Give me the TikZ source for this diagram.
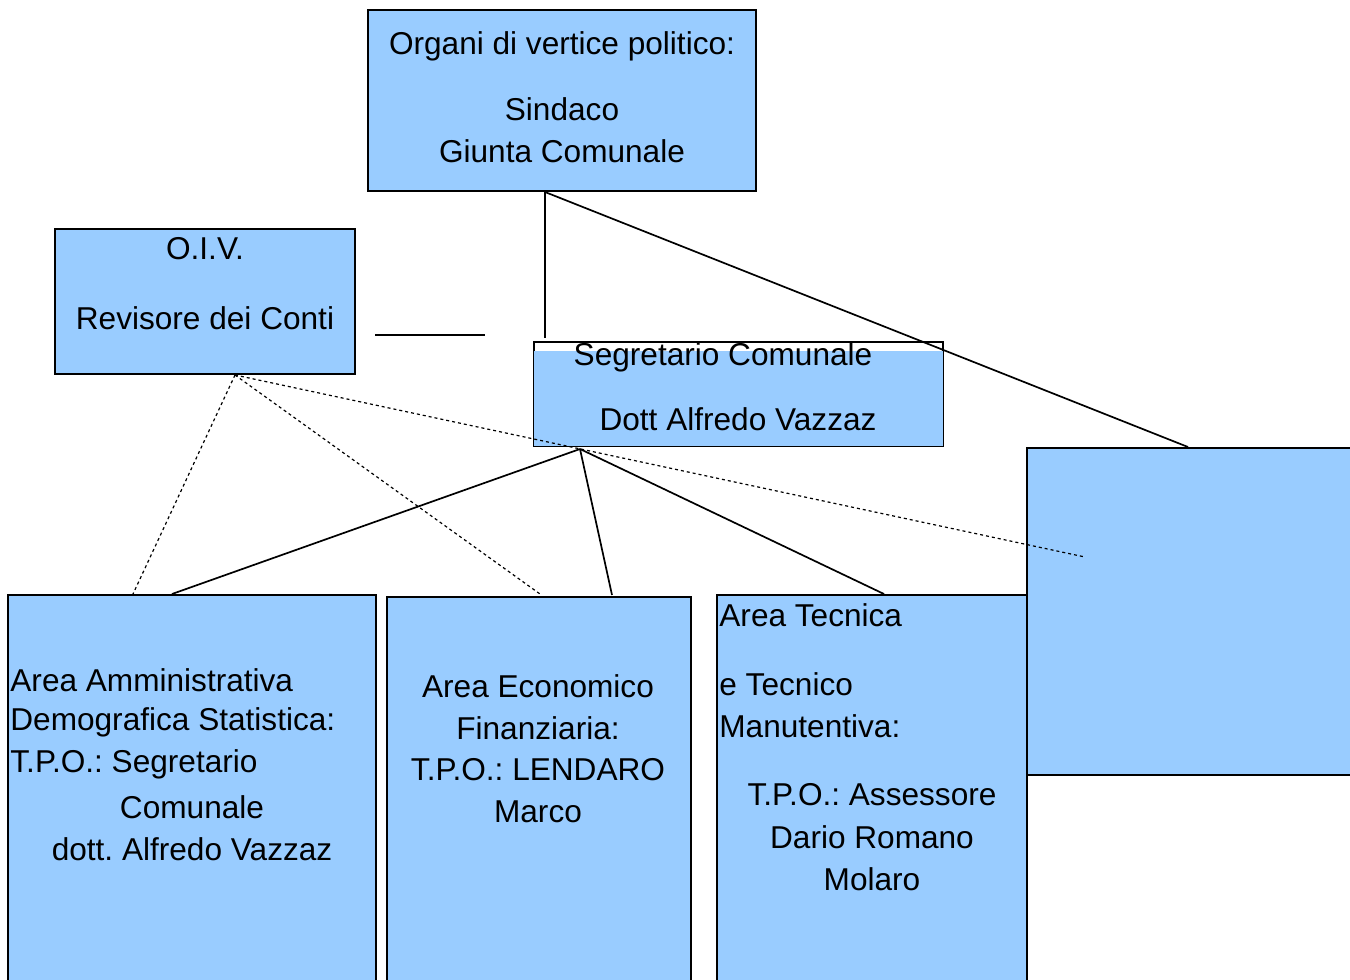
\documentclass[tikz,border=0pt]{standalone}
\usepackage{fontspec}
\setmainfont{Liberation Sans}
\usetikzlibrary{fit,calc}
\definecolor{boxblue}{HTML}{99CCFF}
\frenchspacing
\begin{document}
\begin{tikzpicture}[x=0.5pt,y=-0.5pt,
  box/.style={draw=black,line width=0.9pt,fill=boxblue,inner sep=0pt},
  txt/.style={font=\fontsize{15.8}{21}\selectfont,inner sep=0pt,anchor=center},
  ltxt/.style={font=\fontsize{15.8}{21}\selectfont,inner sep=0pt,anchor=west},
  conn/.style={line width=0.85pt},
  dot/.style={line width=0.6pt,dash pattern=on 1.5pt off 1.5pt}]
\useasboundingbox (0,0) rectangle (1350,980);
% boxes
\node[box,fit={(368,10)(756,191)}] (top) {};
\node[box,fit={(55,229)(355,374)}] (oiv) {};
\node[draw=black,line width=0.9pt,fill=white,inner sep=0pt,fit={(534,342)(943,446)}] (seg) {};
\fill[boxblue] ($(seg.north west)+(0.9,10)$) rectangle ($(seg.south east)+(-0.9,-0.9)$);
\node[box,line width=1.4pt,fit={(1027,448)(1362,775)}] (right) {};
\node[box,fit={(8,595)(376,990)}] (amm) {};
\node[box,fit={(387,597)(691,990)}] (eco) {};
\node[box,fit={(717,595)(1027,990)}] (tec) {};
% texts
\node[txt] (t1) at (562,46) {Organi di vertice politico:};
\node[txt] (t2) at (562,109) {Sindaco};
\node[txt] (t3) at (562,151) {Giunta Comunale};
\node[txt] (o1) at (205,249) {O.I.V.};
\node[txt] (o2) at (205,318) {Revisore dei Conti};
\node[txt] (s1) at (723,357) {Segretario Comunale};
\node[txt] (s2) at (738,419) {Dott Alfredo Vazzaz};
\node[ltxt] (a1) at (10,680) {Area Amministrativa};
\node[ltxt] (a2) at (10,722) {Demografica Statistica:};
\node[ltxt] (a3) at (10,764) {T.P.O.: Segretario};
\node[txt] (a4) at (192,807) {Comunale};
\node[txt] (a5) at (192,849) {dott. Alfredo Vazzaz};
\node[txt] (e1) at (538,686) {Area Economico};
\node[txt] (e2) at (538,728) {Finanziaria:};
\node[txt] (e3) at (538,770) {T.P.O.: LENDARO};
\node[txt] (e4) at (538,812) {Marco};
\node[ltxt] (c1) at (719,615) {Area Tecnica};
\node[ltxt] (c2) at (719,684) {e Tecnico};
\node[ltxt] (c3) at (719,726) {Manutentiva:};
\node[txt] (c4) at (872,795) {T.P.O.: Assessore};
\node[txt] (c5) at (872,837) {Dario Romano};
\node[txt] (c6) at (872,879) {Molaro};
% connector points
\coordinate (topb) at (545,192);
\coordinate (segt) at (545,338);
\coordinate (rightt) at (1188,447);
\coordinate (segb) at (580,449);
\coordinate (ammt) at (172,594);
\coordinate (ecot) at (612,595);
\coordinate (tect) at (884,594);
\coordinate (oivb) at (235,375);
\coordinate (ammd) at (133,594);
\coordinate (ecod) at (540,594);
\coordinate (rightd) at (1085,557);
\coordinate (hl1) at (375,335);
\coordinate (hl2) at (485,335);
% connectors
\draw[conn] (topb) -- (segt);
\draw[conn] (topb) -- (rightt);
\draw[conn] (segb) -- (ammt);
\draw[conn] (segb) -- (ecot);
\draw[conn] (segb) -- (tect);
\draw[dot] (oivb) -- (ammd);
\draw[dot] (oivb) -- (ecod);
\draw[dot] (oivb) -- (rightd);
\draw[line width=1.3pt] (hl1) -- (hl2);
\end{tikzpicture}
\end{document}
